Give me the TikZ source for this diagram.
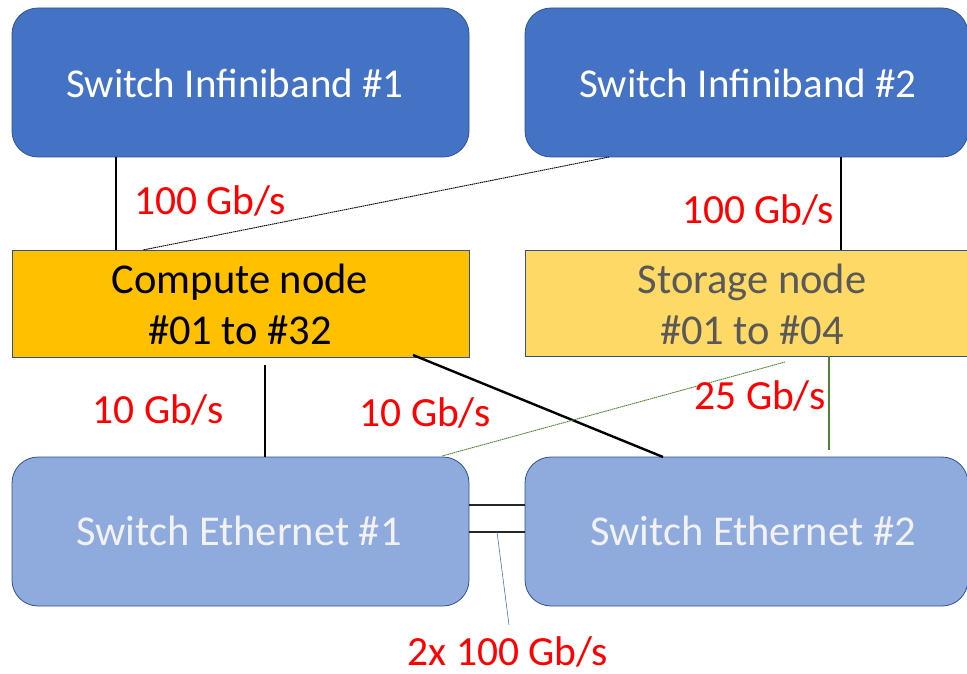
\documentclass[tikz,border=0pt]{standalone}
\usepackage{fontspec}
\setmainfont{Carlito}
\definecolor{ibblue}{HTML}{4472C4}
\definecolor{ethblue}{HTML}{8FAADC}
\definecolor{compfill}{HTML}{FFC000}
\definecolor{storfill}{HTML}{FFD966}
\definecolor{edgeblue}{HTML}{2F528F}
\definecolor{stortext}{HTML}{595959}
\definecolor{linkgreen}{HTML}{548235}
\definecolor{linkblue}{HTML}{4472C4}
\tikzset{
  boxfont/.style={font=\fontsize{42.5}{51}\selectfont},
  ibfont/.style={font=\fontsize{41}{50}\selectfont},
  ibswitch/.style={draw=edgeblue, line width=0.8pt, fill=ibblue, rounded corners=26pt},
  ethswitch/.style={draw=edgeblue, line width=0.8pt, fill=ethblue, rounded corners=26pt},
  hostbox/.style={draw=edgeblue, line width=0.8pt},
  rate/.style={text=red, inner sep=1pt, font=\fontsize{41.5}{48}\selectfont},
}
\begin{document}
\begin{tikzpicture}[x=1pt,y=-1pt]
\useasboundingbox (0,0) rectangle (967,674);
\clip (0,0) rectangle (967,674);
% boxes
\path[ibswitch] (12,8) rectangle (469,157);
\node[text=white, ibfont] (ib1) at (235,83) {Switch Infiniband \#1};
\path[ibswitch] (525,8) rectangle (968,157);
\node[text=white, ibfont] (ib2) at (748,83) {Switch Infiniband \#2};
\path[hostbox, fill=compfill] (12,250) rectangle (469,357);
\node[boxfont, align=center] (comp) at (240,304) {Compute node\\\#01 to \#32};
\path[hostbox, fill=storfill] (525,250) rectangle (990,356);
\node[boxfont, align=center, text=stortext] (stor) at (752,304) {Storage node\\\#01 to \#04};
\path[ethswitch] (12,457) rectangle (469,606);
\node[text=white!95!black, boxfont] (eth1) at (239,531) {Switch Ethernet \#1};
\path[ethswitch] (525,457) rectangle (968,606);
\node[text=white!95!black, boxfont] (eth2) at (753,531) {Switch Ethernet \#2};
% connector anchor coordinates
\coordinate (ib1b) at (116,157);
\coordinate (compt1) at (116,250);
\coordinate (ib2bl) at (609,157);
\coordinate (compt2) at (143,250);
\coordinate (ib2b) at (841,157);
\coordinate (stort) at (841,250);
\coordinate (compb1) at (265,365);
\coordinate (eth1t1) at (265,457);
\coordinate (compb2) at (413,355);
\coordinate (eth2t1) at (663,457);
\coordinate (storb1) at (785,362);
\coordinate (eth1t2) at (442,456);
\coordinate (storb2) at (829,356);
\coordinate (stor2e) at (829,450);
\coordinate (eth1r1) at (469,505);
\coordinate (eth2l1) at (525,505);
\coordinate (eth1r2) at (469,532);
\coordinate (eth2l2) at (525,532);
\coordinate (tick) at (497,532);
\coordinate (tickend) at (509,625);
% links
\draw[black, line width=1.1pt] (ib1b) -- (compt1);
\draw[black, line width=0.9pt, dash pattern=on 1.5pt off 0.6pt] (ib2bl) -- (compt2);
\draw[black, line width=1.1pt] (ib2b) -- (stort);
\draw[black, line width=1.1pt] (compb1) -- (eth1t1);
\draw[black, line width=2.4pt] (compb2) -- (eth2t1);
\draw[linkgreen, line width=0.9pt, dash pattern=on 1.5pt off 0.6pt] (storb1) -- (eth1t2);
\draw[linkgreen, line width=1.1pt] (storb2) -- (stor2e);
\draw[black!85, line width=2.2pt] (eth1r1) -- (eth2l1);
\draw[black!85, line width=2.2pt] (eth1r2) -- (eth2l2);
\draw[linkblue, line width=0.6pt] (tick) -- (tickend);
% labels
\node[rate] (l1) at (210,201) {100 Gb/s};
\node[rate] (l2) at (758,210) {100 Gb/s};
\node[rate] (l3) at (158,410) {10 Gb/s};
\node[rate] (l4) at (425,413) {10 Gb/s};
\node[rate] (l5) at (760,396) {25 Gb/s};
\node[rate] (l6) at (508,652) {2x 100 Gb/s};
\end{tikzpicture}
\end{document}
